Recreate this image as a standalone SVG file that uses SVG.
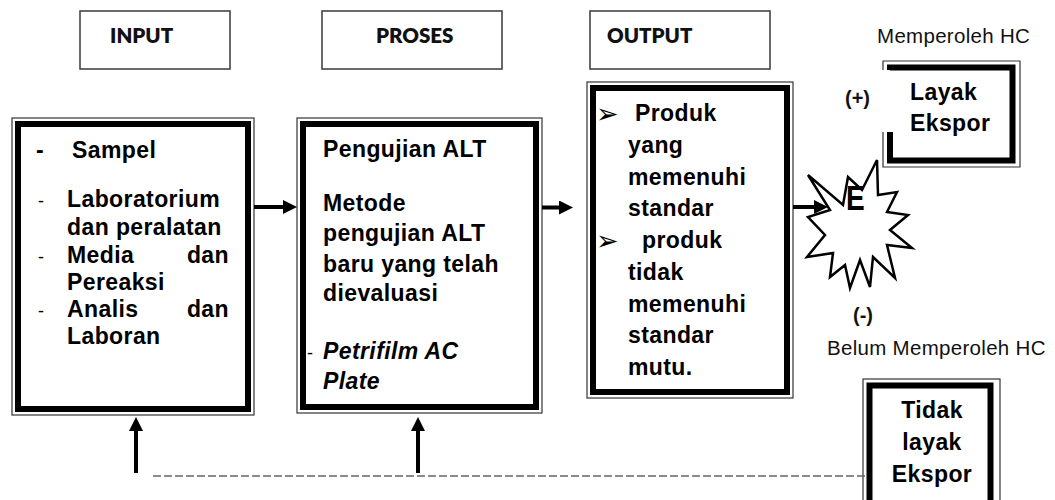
<svg xmlns="http://www.w3.org/2000/svg" width="1055" height="500" viewBox="0 0 1055 500">
  <style>
    .hdr-box { fill: #fff; stroke: #3a3a3a; stroke-width: 1.5; }
    .hdr { font-family: Lato, "Open Sans", sans-serif; font-weight: 800; font-size: 20.5px; fill: #111; }
    .thin { fill: none; stroke: #333; stroke-width: 1.2; }
    .thick { fill: none; stroke: #000; stroke-width: 6; }
    .t { font-family: "Liberation Sans", Arial, sans-serif; font-weight: bold; font-size: 23px; letter-spacing: 0.4px; fill: #000; }
    .ti { font-style: italic; }
    .dash { font-family: "Liberation Sans", Arial, sans-serif; font-size: 18px; fill: #000; }
    .bul { font-family: "DejaVu Sans", sans-serif; font-size: 27px; fill: #000; }
    .lbl { font-family: "Liberation Sans", Arial, sans-serif; font-size: 20.5px; letter-spacing: 0.3px; fill: #111; }
    .sign { font-family: "Liberation Sans", Arial, sans-serif; font-weight: bold; font-size: 20px; fill: #111; }
    .arrow { stroke: #000; stroke-width: 4; fill: none; marker-end: url(#ah); }
    .dashed { stroke: #666; stroke-width: 1.5; stroke-dasharray: 8 3; fill: none; }
  </style>
  <defs>
    <marker id="ah" markerUnits="userSpaceOnUse" markerWidth="14" markerHeight="14" refX="2" refY="7" orient="auto">
      <path d="M0,0 L14,7 L0,14 z" fill="#000"/>
    </marker>
  </defs>

  <rect width="1055" height="500" fill="#fff"/>

  <!-- column headers -->
  <g id="hdr-input">
    <rect class="hdr-box" x="80" y="11" width="150" height="58"/>
    <text class="hdr" x="110" y="43">INPUT</text>
  </g>
  <g id="hdr-proses">
    <rect class="hdr-box" x="322" y="11" width="180" height="58"/>
    <text class="hdr" x="376" y="43">PROSES</text>
  </g>
  <g id="hdr-output">
    <rect class="hdr-box" x="590" y="11" width="180" height="58"/>
    <text class="hdr" x="607" y="43">OUTPUT</text>
  </g>

  <!-- input box -->
  <g id="input">
    <rect class="thin" x="12" y="118" width="242" height="297"/>
    <rect class="thick" x="18" y="124" width="230" height="285"/>
    <text class="t" x="36" y="158">-</text>
    <text class="t" x="72" y="158">Sampel</text>
    <text class="dash" x="38" y="207">-</text>
    <text class="t" x="67" y="207">Laboratorium</text>
    <text class="t" x="67" y="235">dan peralatan</text>
    <text class="dash" x="38" y="263">-</text>
    <text class="t" x="67" y="263">Media</text>
    <text class="t" x="229" y="263" text-anchor="end">dan</text>
    <text class="t" x="67" y="290">Pereaksi</text>
    <text class="dash" x="38" y="317">-</text>
    <text class="t" x="67" y="317">Analis</text>
    <text class="t" x="229" y="317" text-anchor="end">dan</text>
    <text class="t" x="67" y="344">Laboran</text>
  </g>

  <!-- process box -->
  <g id="proses">
    <rect class="thin" x="297" y="118" width="245" height="295"/>
    <rect class="thick" x="303" y="124" width="233" height="283"/>
    <text class="t" x="323" y="157">Pengujian ALT</text>
    <text class="t" x="323" y="211">Metode</text>
    <text class="t" x="323" y="241">pengujian ALT</text>
    <text class="t" x="323" y="272">baru yang telah</text>
    <text class="t" x="323" y="301">dievaluasi</text>
    <text class="dash" x="307" y="359">-</text>
    <text class="t ti" x="323" y="359">Petrifilm AC</text>
    <text class="t ti" x="323" y="389">Plate</text>
  </g>

  <!-- output box -->
  <g id="output">
    <rect class="thin" x="587" y="82" width="206" height="316"/>
    <rect class="thick" x="593" y="88" width="194" height="304"/>
    <text class="bul" x="596" y="123">➢</text>
    <text class="t" x="635" y="121">Produk</text>
    <text class="t" x="628" y="153">yang</text>
    <text class="t" x="628" y="185">memenuhi</text>
    <text class="t" x="628" y="216">standar</text>
    <text class="bul" x="596" y="250">➢</text>
    <text class="t" x="642" y="248">produk</text>
    <text class="t" x="628" y="280">tidak</text>
    <text class="t" x="628" y="312">memenuhi</text>
    <text class="t" x="628" y="343">standar</text>
    <text class="t" x="628" y="375">mutu.</text>
  </g>

  <!-- decision burst -->
  <g id="decision">
    <polygon fill="#fff" stroke="none" points="808,175 843,205 848,177 862,190 877,160 878,195 897,192 887,212 908,215 890,230 912,248 887,245 895,278 873,257 870,287 860,260 850,288 845,265 830,277 833,253 807,257 825,235 808,217 830,210"/>
    <text class="t" transform="translate(846,210) scale(1,1.25)" style="font-size:28px;letter-spacing:0">E</text>
    <polygon fill="none" stroke="#000" stroke-width="2.5" stroke-linejoin="miter" points="808,175 843,205 848,177 862,190 877,160 878,195 897,192 887,212 908,215 890,230 912,248 887,245 895,278 873,257 870,287 860,260 850,288 845,265 830,277 833,253 807,257 825,235 808,217 830,210"/>
    <text class="sign" x="845" y="105">(+)</text>
    <text class="sign" x="853" y="322">(-)</text>
  </g>

  <!-- accepted for export -->
  <g id="layak">
    <text class="lbl" x="877" y="43">Memperoleh HC</text>
    <path class="thin" d="M883,70 V61 H1020 V167 H883 V132"/>
    <path class="thick" d="M890,70 V67.5 H1012.5 V160.5 H890 V132"/>
    <text class="t" x="910" y="100">Layak</text>
    <text class="t" x="910" y="131">Ekspor</text>
  </g>

  <!-- not accepted for export -->
  <g id="tidak-layak">
    <text class="lbl" x="827" y="355">Belum Memperoleh HC</text>
    <rect class="thin" x="863" y="379" width="137" height="140"/>
    <rect class="thick" x="869.5" y="385.5" width="121" height="130"/>
    <text class="t" x="932" y="418" text-anchor="middle">Tidak</text>
    <text class="t" x="932" y="450" text-anchor="middle">layak</text>
    <text class="t" x="932" y="482" text-anchor="middle">Ekspor</text>
  </g>

  <!-- connectors -->
  <g id="connectors">
    <line class="arrow" x1="254" y1="207" x2="285" y2="207"/>
    <line class="arrow" x1="542" y1="207.5" x2="561" y2="207.5"/>
    <line class="arrow" x1="793" y1="207" x2="816" y2="207"/>
    <line class="arrow" x1="136" y1="473" x2="136" y2="429"/>
    <line class="arrow" x1="418" y1="473" x2="418" y2="429"/>
    <line class="dashed" x1="153" y1="476" x2="867" y2="476"/>
  </g>
</svg>
